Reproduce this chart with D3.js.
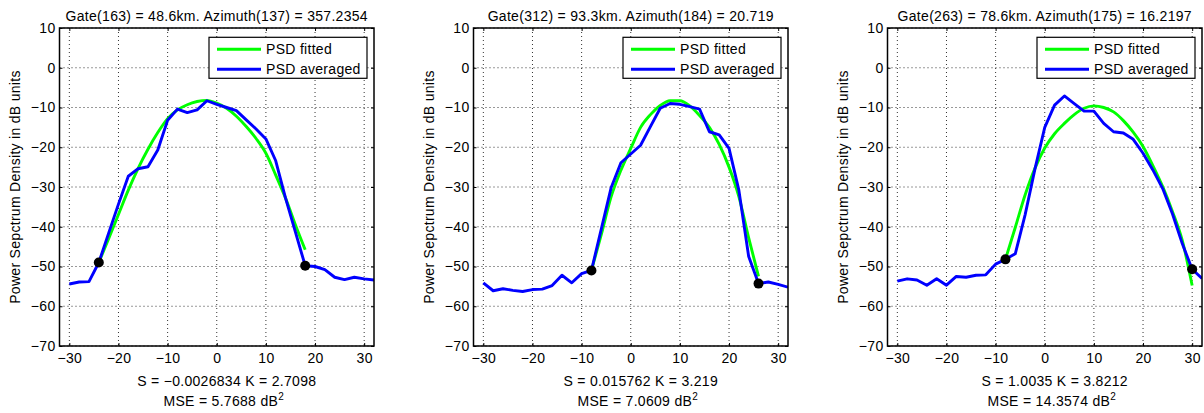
<!DOCTYPE html>
<html>
<head>
<meta charset="utf-8">
<script src="https://cdn.jsdelivr.net/npm/d3@7"></script>
<style>
  html, body { margin: 0; padding: 0; background: #fff; }
  svg text {
    font-family: "Liberation Sans", Arial, Helvetica, sans-serif;
    font-size: 14px;
    letter-spacing: 0.3px;
    fill: #000;
  }
</style>
</head>
<body>
<svg id="chart" width="1204" height="413"></svg>
<script>
// Doppler frequency bins shared by every averaged spectrum
const freq = [-30, -28, -26, -24, -22, -20, -18, -16, -14, -12, -10, -8, -6, -4, -2, 0,
              2, 4, 6, 8, 10, 12, 14, 16, 18, 20, 22, 24, 26, 28, 30, 32];

// Averaged PSD (dB) for each range gate
const avgA = [-54.4, -53.9, -53.8, -49.0, -41.6, -34.3, -27.3, -25.4, -24.9, -20.7, -13.2, -10.4, -11.3, -10.6, -8.3, -9.2,
              -10.0, -10.8, -13.1, -15.4, -17.9, -23.4, -32.8, -41.3, -49.8, -50.0, -50.8, -52.7, -53.3, -52.7, -53.1, -53.4];
const avgB = [-54.1, -56.1, -55.6, -56.0, -56.3, -55.8, -55.7, -54.8, -52.2, -54.1, -51.8, -51.0, -40.6, -30.2, -23.9, -21.7,
              -19.5, -14.8, -10.2, -9.0, -9.2, -9.8, -10.4, -16.1, -16.9, -20.3, -30.8, -47.5, -54.3, -53.9, -54.5, -55.2];
const avgC = [-53.7, -53.1, -53.4, -54.7, -53.1, -54.7, -52.5, -52.7, -52.2, -52.1, -49.4, -48.2, -46.8, -37.0, -25.5, -15.0,
              -9.4, -7.1, -9.0, -10.9, -10.9, -14.0, -16.1, -16.4, -18.0, -21.5, -25.7, -30.4, -36.8, -44.3, -50.7, -53.0];

// Fitted PSD (dB) over the signal band of each gate
const fitFreqA = [-24, -22, -20, -18, -16, -14, -12, -10, -8, -6, -4, -2, 0, 2, 4, 6, 8, 10, 12, 14, 16, 18];
const fitA = [-49.0, -43.0, -36.9, -30.8, -25.3, -20.5, -16.3, -12.8, -10.6, -9.3, -8.5, -8.2, -8.9, -10.2, -12.2,
              -14.8, -17.8, -21.5, -27.0, -32.8, -39.5, -45.8];
const fitFreqB = [-8, -6, -4, -2, 0, 2, 4, 6, 8, 10, 12, 14, 16, 18, 20, 22, 24, 26];
const fitB = [-51.0, -42.0, -32.5, -25.8, -20.3, -15.0, -11.8, -9.5, -8.3, -8.3, -9.6, -12.0, -15.0, -19.3, -25.0,
              -32.4, -42.8, -52.5];
const fitFreqC = [-8, -6, -4, -2, 0, 2, 4, 6, 8, 10, 12, 14, 16, 18, 20, 22, 24, 26, 28, 30];
const fitC = [-48.2, -40.2, -32.0, -25.3, -20.2, -16.6, -14.0, -11.8, -10.2, -9.6, -10.0, -11.1, -13.3, -16.2, -19.8,
              -24.6, -29.9, -36.2, -43.5, -54.8];

// Band edges (frequency bins) marked on each spectrum
const edgesA = [-24, 18];
const edgesB = [-8, 26];
const edgesC = [-8, 30];

const titles = [
  "Gate(163) = 48.6km. Azimuth(137) = 357.2354",
  "Gate(312) = 93.3km. Azimuth(184) = 20.719",
  "Gate(263) = 78.6km. Azimuth(175) = 16.2197"
];
const skewKurt = [
  "S = \u22120.0026834 K = 2.7098",
  "S = 0.015762 K = 3.219",
  "S = 1.0035 K = 3.8212"
];
const mseValues = ["5.7688", "7.0609", "14.3574"];

const xTicks = [-30, -20, -10, 0, 10, 20, 30];
const yTicks = [10, 0, -10, -20, -30, -40, -50, -60, -70];
const legendLabels = ["PSD fitted", "PSD averaged"];
const yLabel = "Power Sepctrum Density in dB units";

const panels = [
  { avg: avgA, fx: fitFreqA, fit: fitA, edges: edgesA },
  { avg: avgB, fx: fitFreqB, fit: fitB, edges: edgesB },
  { avg: avgC, fx: fitFreqC, fit: fitC, edges: edgesC }
];

const GREEN = "#00ff00";
const BLUE = "#0000ff";

const svg = d3.select("#chart");
const W = 314.5, H = 318, TOP = 28;
const lefts = [59.5, 473.5, 887.5];

const x = d3.scaleLinear().domain([-32, 32]).range([0, W]);
const y = d3.scaleLinear().domain([-70, 10]).range([H, 0]);
const fmt = d3.format("d");

panels.forEach((p, i) => {
  const g = svg.append("g").attr("transform", `translate(${lefts[i]},${TOP})`);

  g.append("clipPath").attr("id", "clip" + i)
    .append("rect").attr("width", W).attr("height", H);

  // white plot background
  g.append("rect").attr("width", W).attr("height", H).attr("fill", "#fff");

  // dotted grid
  const grid = g.append("g").attr("stroke", "#333").attr("stroke-width", 1)
    .attr("stroke-dasharray", "1,3");
  grid.selectAll(".gx").data(xTicks).join("line")
    .attr("x1", d => x(d)).attr("x2", d => x(d)).attr("y1", 0).attr("y2", H);
  grid.selectAll(".gy").data(yTicks).join("line")
    .attr("y1", d => y(d)).attr("y2", d => y(d)).attr("x1", 0).attr("x2", W);

  // axes with inward ticks on all four sides
  const ax = (axis, tr) => {
    const a = g.append("g").attr("transform", tr).call(axis);
    a.select(".domain").remove();
    a.selectAll(".tick line").attr("stroke", "#000").attr("stroke-width", 1);
    return a;
  };
  ax(d3.axisBottom(x).tickValues(xTicks).tickSize(-3).tickPadding(7).tickFormat(fmt), `translate(0,${H})`);
  ax(d3.axisTop(x).tickValues(xTicks).tickSize(-3).tickFormat(""), "translate(0,0)");
  ax(d3.axisLeft(y).tickValues(yTicks).tickSize(-3).tickPadding(4).tickFormat(fmt), "translate(0,0)");
  ax(d3.axisRight(y).tickValues(yTicks).tickSize(-3).tickFormat(""), `translate(${W},0)`);
  g.selectAll(".tick text").attr("fill", "#000");
  g.selectAll("g[font-size]").attr("font-size", null).attr("font-family", null);

  // spectra
  const plot = g.append("g").attr("clip-path", `url(#clip${i})`);
  const fitLine = d3.line().x(d => x(d[0])).y(d => y(d[1])).curve(d3.curveMonotoneX);
  const avgLine = d3.line().x(d => x(d[0])).y(d => y(d[1]));
  plot.append("path")
    .attr("d", fitLine(p.fx.map((f, k) => [f, p.fit[k]])))
    .attr("fill", "none").attr("stroke", GREEN).attr("stroke-width", 2.9)
    .attr("stroke-linejoin", "round");
  plot.append("path")
    .attr("d", avgLine(freq.map((f, k) => [f, p.avg[k]])))
    .attr("fill", "none").attr("stroke", BLUE).attr("stroke-width", 2.9)
    .attr("stroke-linejoin", "round");

  // band edge markers on the averaged spectrum
  plot.selectAll(".edge").data(p.edges).join("circle")
    .attr("cx", d => x(d))
    .attr("cy", d => y(p.avg[freq.indexOf(d)]))
    .attr("r", 5).attr("fill", "#000");

  // axes box
  g.append("rect").attr("width", W).attr("height", H)
    .attr("fill", "none").attr("stroke", "#000").attr("stroke-width", 1.5);

  // legend
  const lg = g.append("g").attr("transform", `translate(${W - 7 - 158},9.3)`);
  lg.append("rect").attr("width", 158).attr("height", 41)
    .attr("fill", "#fff").attr("stroke", "#000").attr("stroke-width", 1.2);
  [GREEN, BLUE].forEach((c, k) => {
    const ry = 12 + k * 20;
    lg.append("line").attr("x1", 8).attr("x2", 52).attr("y1", ry).attr("y2", ry)
      .attr("stroke", c).attr("stroke-width", 3);
    lg.append("text").attr("x", 57).attr("y", ry + 5).text(legendLabels[k]);
  });

  // title
  g.append("text").attr("x", W / 2).attr("y", -7)
    .attr("text-anchor", "middle").text(titles[i]);

  // y label
  g.append("text")
    .attr("transform", `translate(-39.5,${H / 2}) rotate(-90)`)
    .attr("text-anchor", "middle").text(yLabel);

  // statistics below the axis
  g.append("text").attr("x", W / 2 + 10).attr("y", 358)
    .attr("text-anchor", "middle").text(skewKurt[i]);
  const mse = g.append("text").attr("x", W / 2 + 7).attr("y", 377.7)
    .attr("text-anchor", "middle");
  mse.append("tspan").text(`MSE = ${mseValues[i]} dB`);
  mse.append("tspan").attr("dy", -6).attr("font-size", "10px").text("2");
});
</script>
</body>
</html>
